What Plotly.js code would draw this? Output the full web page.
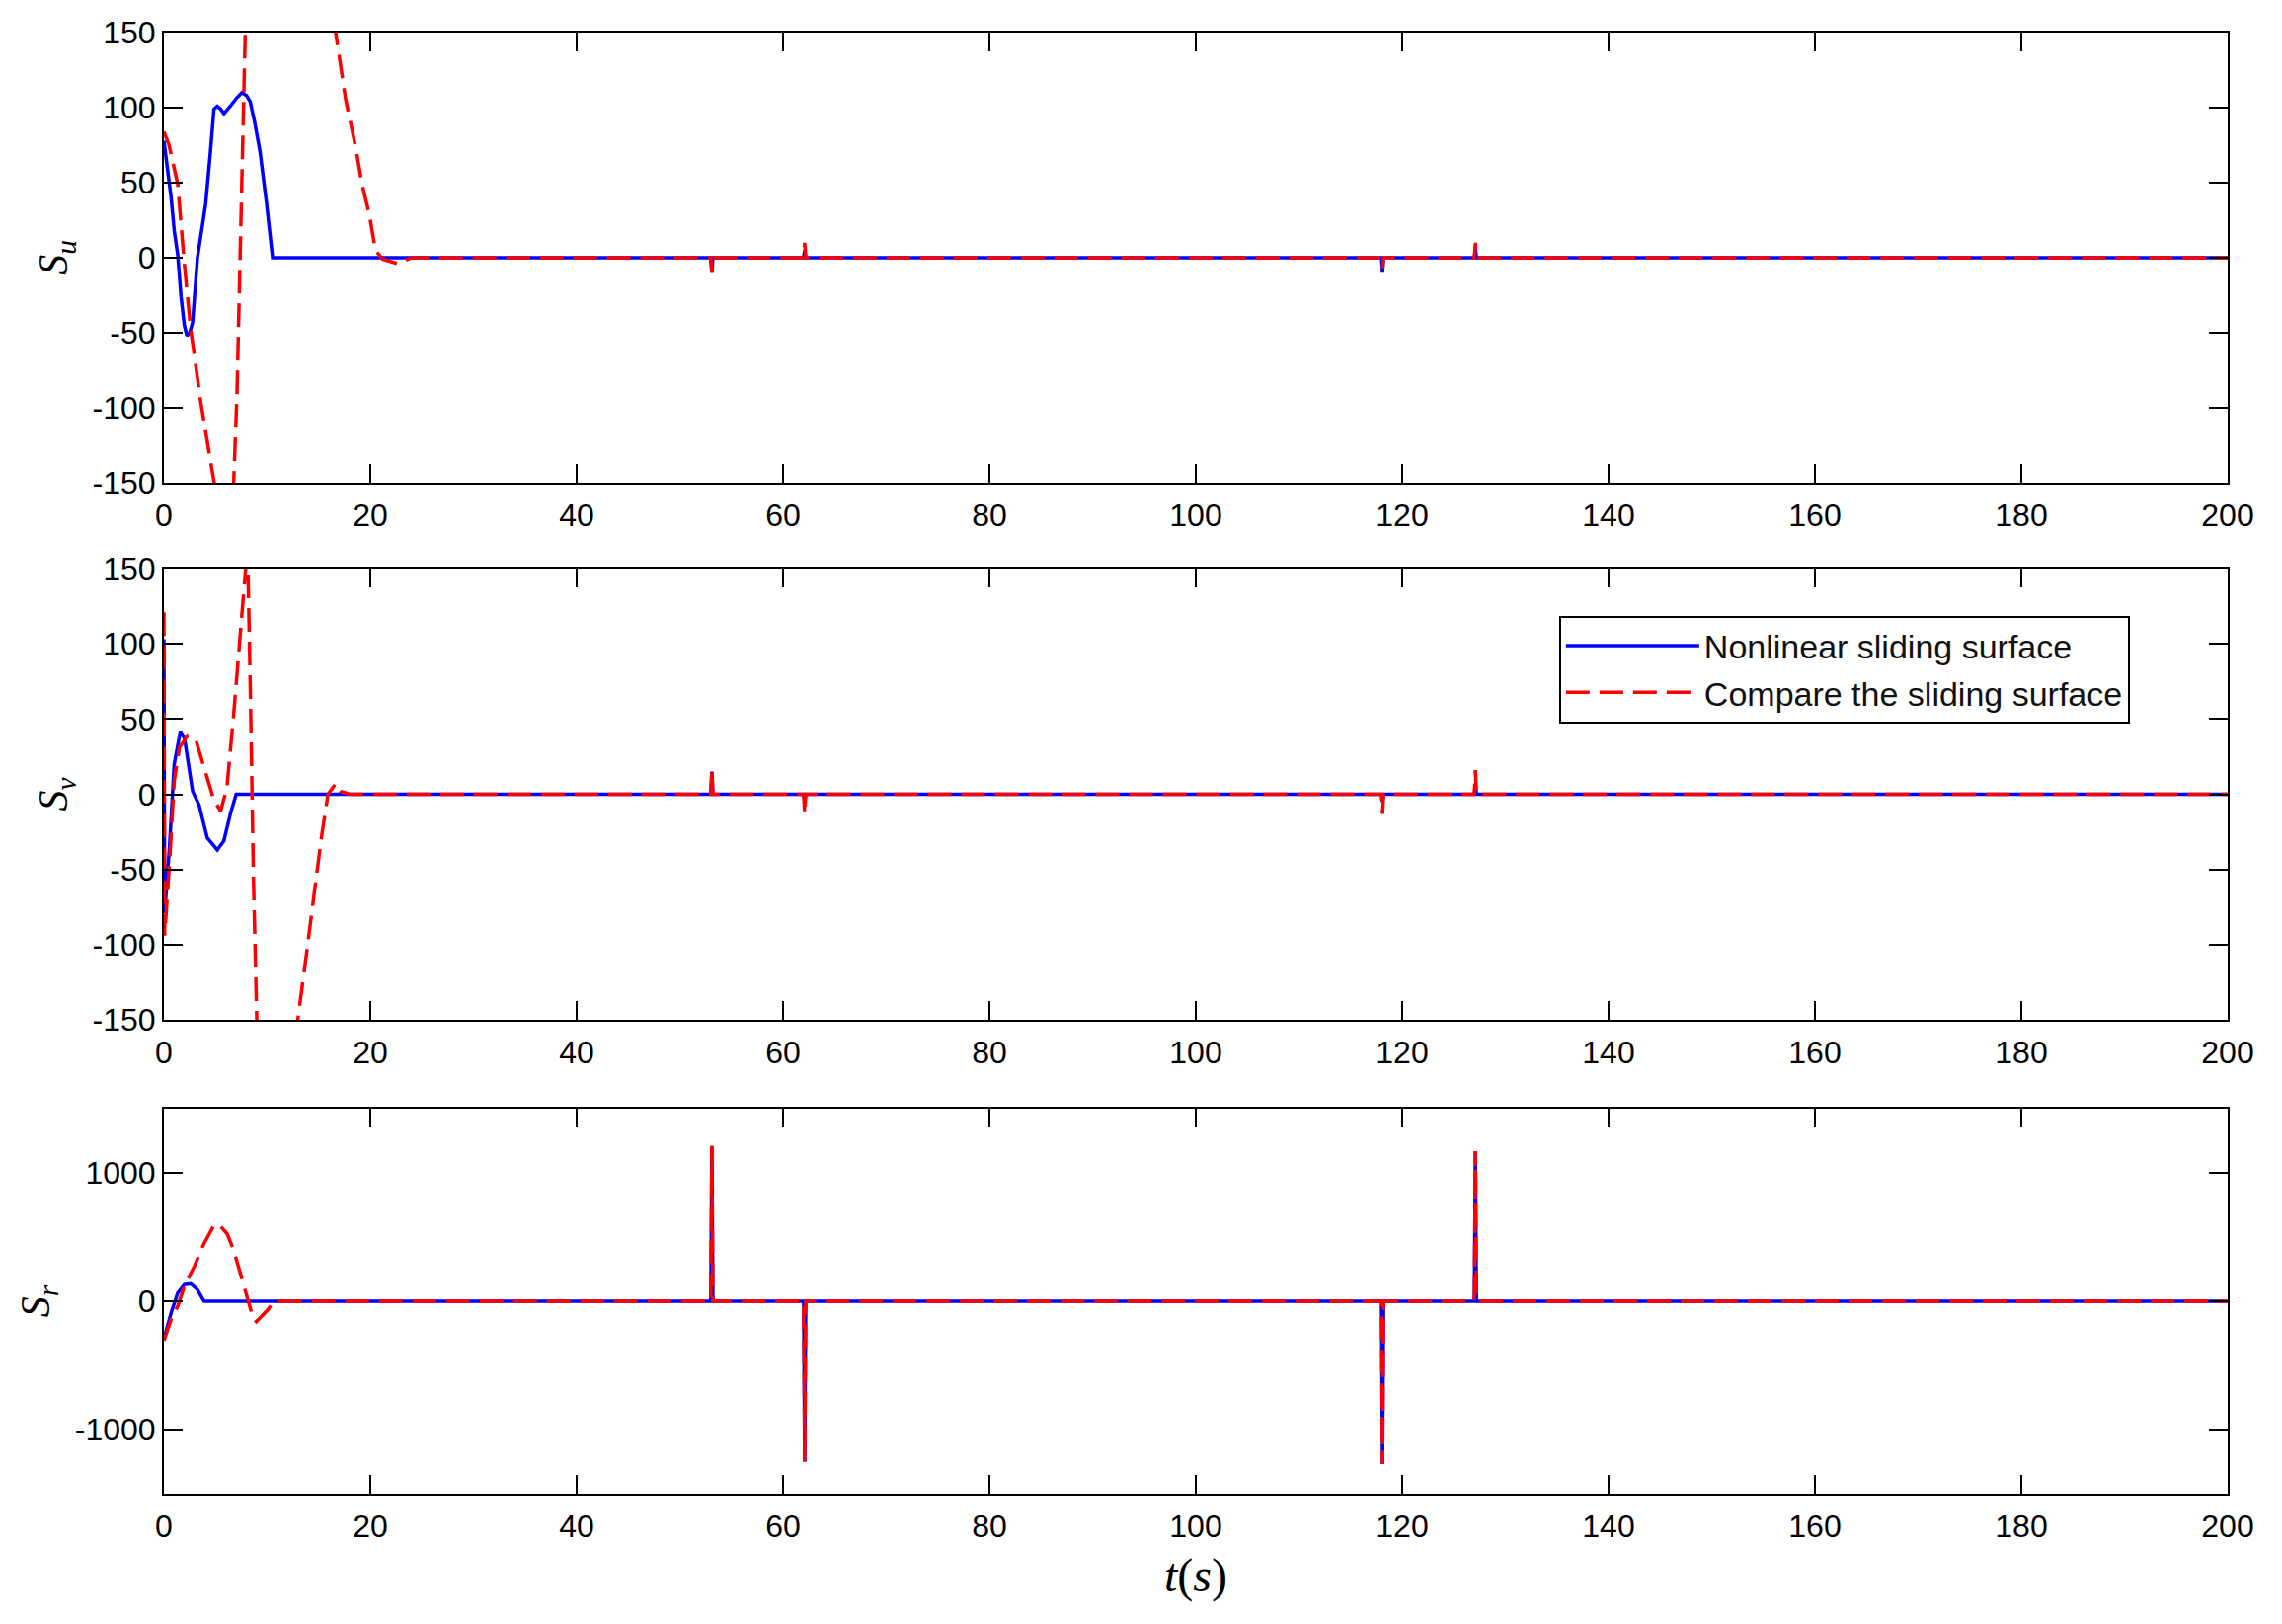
<!DOCTYPE html>
<html>
<head>
<meta charset="utf-8">
<script src="https://cdn.plot.ly/plotly-3.0.1.min.js"></script>
<style>html,body{margin:0;padding:0;background:#fff;}#chart{width:2311px;height:1645px;}</style>
</head>
<body>
<div id="chart"></div>
<script>
// ---- Data ----
const seriesNames = ["Nonlinear sliding surface", "Compare the sliding surface"];
const xTicks = [0, 20, 40, 60, 80, 100, 120, 140, 160, 180, 200];
const yTicksUV = [-150, -100, -50, 0, 50, 100, 150];
const yTicksR = [-1000, 0, 1000];

// S_u : nonlinear sliding surface
const tSuNl = [0, 0.3, 0.7, 1.0, 1.34, 1.66, 1.98, 2.23, 2.5, 2.78, 3.25, 3.7, 4.05, 4.5, 4.85, 5.17, 5.5, 5.81, 6.1, 6.44, 7.0, 7.56, 8.0, 8.36, 8.8, 9.31, 9.95, 10.53,
  53.0, 53.1, 53.2, 62.0, 62.1, 62.2, 118.0, 118.1, 118.2, 127.0, 127.1, 127.2, 200];
const suNl = [78, 62, 40, 18, 2, -26, -45, -52, -50, -43, 0, 20, 36, 70, 99, 101, 99, 96, 98, 101, 106, 110, 108, 104, 90, 71, 36, 0,
  0, -10, 0, 0, 5, 0, 0, -10, 0, 0, 6, 0, 0];
// S_u : compared sliding surface
const tSuCmp = [0, 0.5, 1.34, 1.98, 2.6, 3.57, 4.5, 4.85, 5.5, 6.0, 6.76, 7.08, 7.56, 7.88, 9.0, 11.0, 13.0, 15.0, 16.65, 17.6, 18.6, 19.2, 19.9, 20.5, 21.2, 21.8, 22.7, 24.0,
  53.0, 53.1, 53.2, 62.0, 62.1, 62.2, 118.0, 118.1, 118.2, 127.0, 127.1, 127.2, 200];
const suCmp = [84, 75, 49, -4, -48, -96, -135, -150, -175, -180, -150, -91, 40, 150, 320, 400, 340, 240, 150, 106, 73, 49, 29, 5, -1, -2, -4, 0,
  0, -10, 0, 0, 10, 0, 0, -7, 0, 0, 10, 0, 0];

// S_v : nonlinear sliding surface
const tSvNl = [0, 0.07, 0.54, 1.0, 1.6, 2.0, 2.78, 3.4, 4.2, 5.17, 5.81, 6.44, 7.0,
  53.0, 53.1, 53.2, 62.0, 62.1, 62.2, 118.0, 118.1, 118.2, 127.0, 127.1, 127.2, 200];
const svNl = [103, -79, -35, 20, 42, 37, 2, -7, -29, -37, -31, -13, 0,
  0, 15, 0, 0, -5, 0, 0, -5, 0, 0, 7, 0, 0];
// S_v : compared sliding surface
const tSvCmp = [0, 0.07, 0.54, 1.0, 1.5, 2.3, 3.1, 3.9, 4.85, 5.5, 6.1, 6.76, 7.24, 7.88, 8.1, 8.36, 8.5, 8.68, 9.0, 9.6, 10.4, 11.4, 12.3, 13.0, 13.8, 14.6, 15.3, 15.9, 16.65, 17.1, 18.0,
  53.0, 53.1, 53.2, 62.0, 62.1, 62.2, 118.0, 118.1, 118.2, 127.0, 127.1, 127.2, 200];
const svCmp = [121, -94, -46, 9, 31, 39, 36, 18, -4, -11, 4, 53, 96, 147, 165, 75, 9, -57, -150, -205, -230, -215, -185, -150, -107, -64, -27, 0, 7, 2, 0,
  0, 16, 0, 0, -13, 0, 0, -13, 0, 0, 16, 0, 0];

// S_r : nonlinear sliding surface
const tSrNl = [0, 0.7, 1.34, 1.98, 2.62, 3.25, 3.89,
  53.0, 53.1, 53.2, 62.0, 62.1, 62.2, 118.0, 118.1, 118.2, 127.0, 127.1, 127.2, 200];
const srNl = [-296, -90, 64, 129, 136, 90, 0,
  0, 1210, 0, 0, -1250, 0, 0, -1270, 0, 0, 1170, 0, 0];
// S_r : compared sliding surface
const tSrCmp = [0, 0.7, 1.34, 1.98, 2.93, 3.89, 4.85, 5.3, 6.12, 6.76, 7.4, 8.04, 8.68, 8.95, 10.1, 10.6,
  53.0, 53.1, 53.2, 62.0, 62.1, 62.2, 118.0, 118.1, 118.2, 127.0, 127.1, 127.2, 200];
const srCmp = [-308, -141, -39, 116, 270, 450, 590, 600, 527, 398, 219, 39, -141, -160, -64, 0,
  0, 1210, 0, 0, -1250, 0, 0, -1270, 0, 0, 1170, 0, 0];

// ---- Styles ----
const BLUE = "#0000ff", RED = "#ff0000";
const nlLine = {color: BLUE, width: 3.5};
const cmpLine = {color: RED, width: 3.5, dash: "24px,10px"};

function pair(t1, y1, t2, y2, xa, ya, show) {
  return [
    {x: t1, y: y1, type: "scatter", mode: "lines", line: nlLine, name: seriesNames[0], legendgroup: "nl", showlegend: show, xaxis: xa, yaxis: ya, hoverinfo: "skip"},
    {x: t2, y: y2, type: "scatter", mode: "lines", line: cmpLine, name: seriesNames[1], legendgroup: "cmp", showlegend: show, xaxis: xa, yaxis: ya, hoverinfo: "skip"}
  ];
}

const data = [].concat(
  pair(tSuNl, suNl, tSuCmp, suCmp, "x", "y", false),
  pair(tSvNl, svNl, tSvCmp, svCmp, "x2", "y2", true),
  pair(tSrNl, srNl, tSrCmp, srCmp, "x3", "y3", false)
);

const tickFont = {family: "Liberation Sans, Arial, sans-serif", size: 32, color: "#000"};
const mathFont = {family: "Liberation Serif, Times New Roman, serif", size: 42, color: "#000"};

function xAxis(anchor, withTitle) {
  const a = {
    anchor: anchor, domain: [0, 1], range: [0, 200], tickvals: xTicks, ticktext: xTicks.map(String),
    ticks: "inside", ticklen: 19, tickwidth: 2, tickcolor: "#000", ticklabelstandoff: 4,
    showline: true, linecolor: "#000", linewidth: 2, mirror: "ticks",
    showgrid: false, zeroline: false, tickfont: tickFont, automargin: false
  };
  if (withTitle) a.title = {text: "<i>t</i>(<i>s</i>)", font: {family: mathFont.family, size: 48, color: "#000"}, standoff: 15};
  return a;
}
function yAxis(anchor, domain, range, vals, label) {
  return {
    anchor: anchor, domain: domain, range: range, tickvals: vals, ticktext: vals.map(String),
    ticks: "inside", ticklen: 19, tickwidth: 2, tickcolor: "#000",
    showline: true, linecolor: "#000", linewidth: 2, mirror: "ticks",
    showgrid: false, zeroline: false, tickfont: tickFont, automargin: false,
    title: {text: label, font: mathFont, standoff: 12}
  };
}

const layout = {
  width: 2311, height: 1645,
  margin: {l: 166, r: 55, t: 33, b: 132},
  paper_bgcolor: "#fff", plot_bgcolor: "#fff",
  showlegend: true,
  legend: {
    x: 0.676, y: 0.601, xanchor: "left", yanchor: "top",
    bgcolor: "#fff", bordercolor: "#000", borderwidth: 2,
    font: {family: "Liberation Sans, Arial, sans-serif", size: 34, color: "#111"},
    itemwidth: 135, tracegroupgap: 0
  },
  xaxis: xAxis("y", false),
  xaxis2: xAxis("y2", false),
  xaxis3: xAxis("y3", true),
  yaxis: yAxis("x", [0.6919, 1.0], [-150, 150], yTicksUV, "<i>S</i><sub><i>u</i></sub>"),
  yaxis2: yAxis("x2", [0.3243, 0.6331], [-150, 150], yTicksUV, "<i>S</i><sub><i>v</i></sub>"),
  yaxis3: yAxis("x3", [0, 0.2635], [-1500, 1500], yTicksR, "<i>S</i><sub><i>r</i></sub>")
};

Plotly.newPlot("chart", data, layout, {staticPlot: true, displayModeBar: false});
</script>
</body>
</html>
